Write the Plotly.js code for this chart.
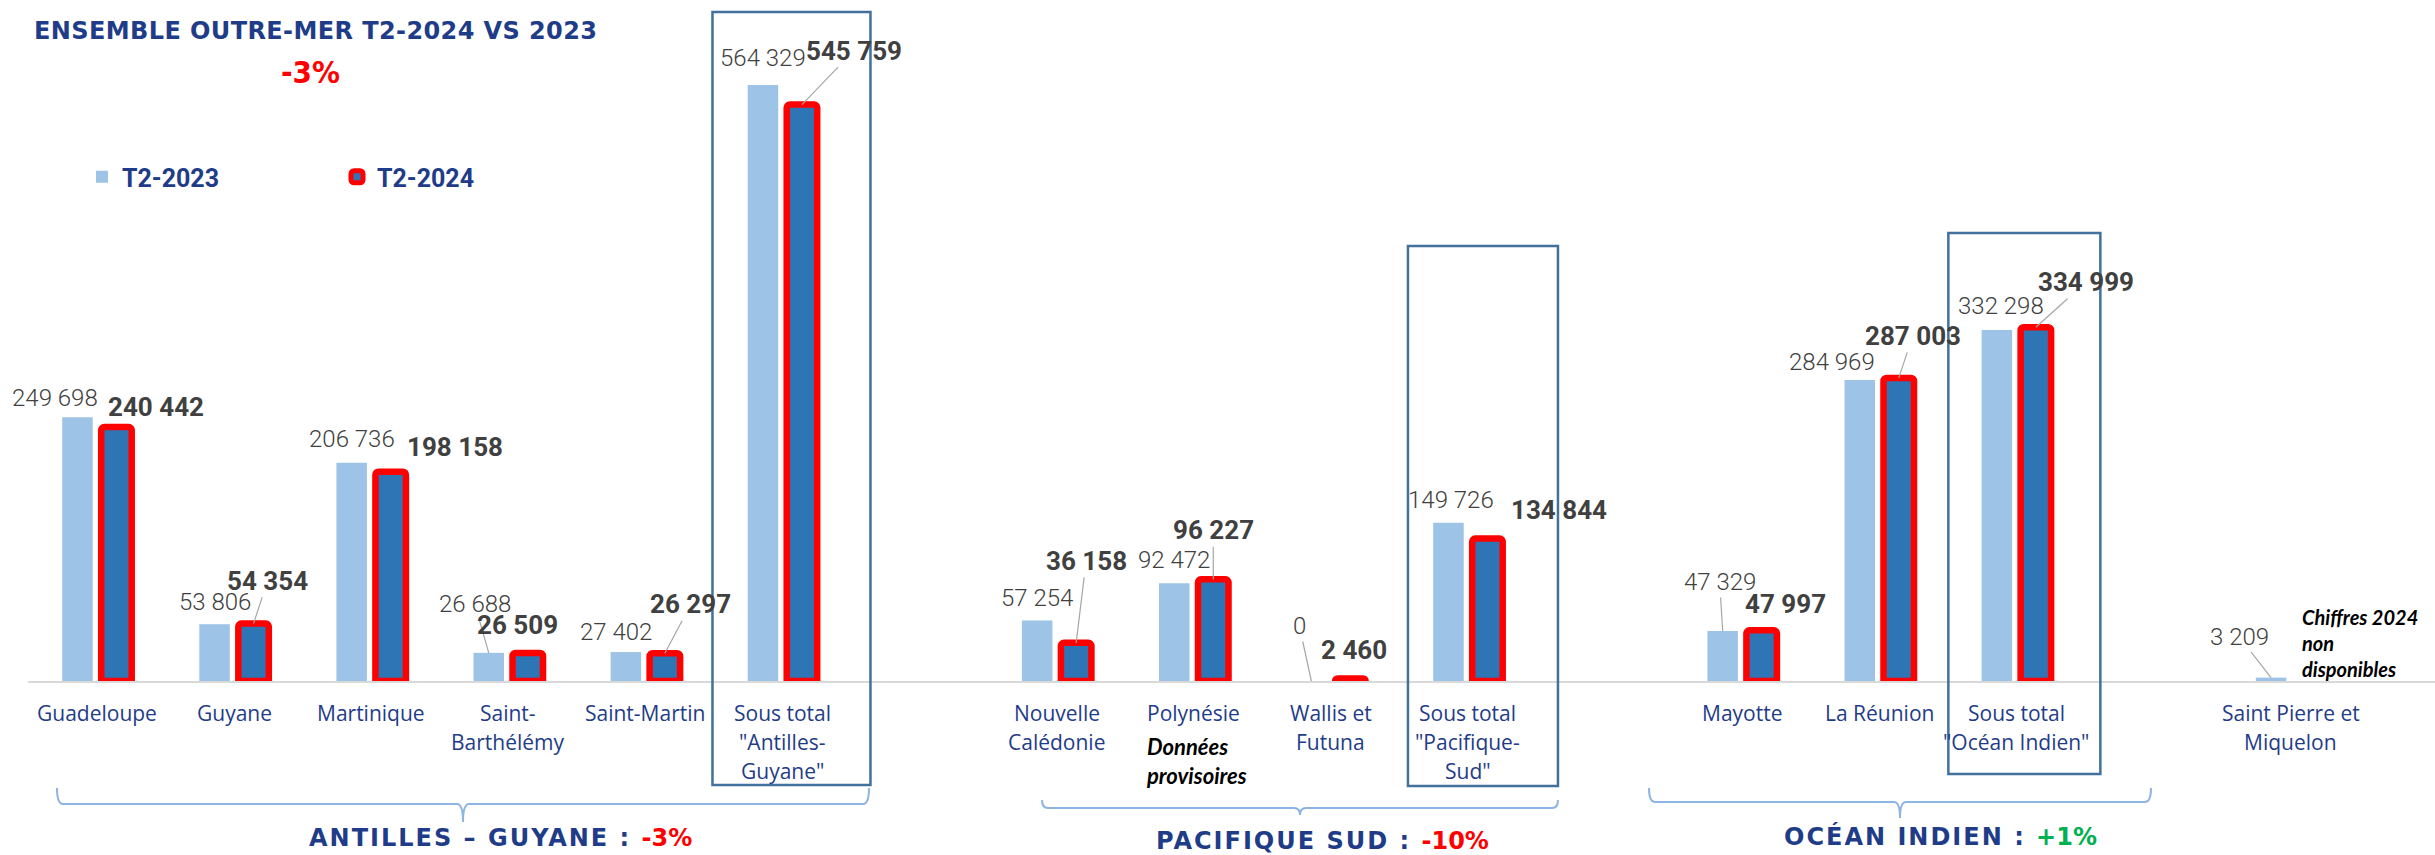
<!DOCTYPE html>
<html><head><meta charset="utf-8">
<script src="https://cdn.plot.ly/plotly-3.0.1.min.js"></script>
<style>html,body{margin:0;padding:0;background:#fff}#chart{width:2435px;height:855px}</style>
</head><body><div id="chart"></div>
<script>
// ---------------- DATA ----------------
const categories = ["Guadeloupe", "Guyane", "Martinique", "Saint-Barthélémy", "Saint-Martin",
  "Sous total \"Antilles-Guyane\"", "Nouvelle Calédonie", "Polynésie", "Wallis et Futuna",
  "Sous total \"Pacifique-Sud\"", "Mayotte", "La Réunion", "Sous total \"Océan Indien\"",
  "Saint Pierre et Miquelon"];
const categoryOrder = ["Guadeloupe", "Guyane", "Martinique", "Saint-Barthélémy", "Saint-Martin",
  "Sous total \"Antilles-Guyane\"", "", "Nouvelle Calédonie", "Polynésie", "Wallis et Futuna",
  "Sous total \"Pacifique-Sud\"", "", "Mayotte", "La Réunion", "Sous total \"Océan Indien\"", "",
  "Saint Pierre et Miquelon"];
const tickLines = [["Guadeloupe"], ["Guyane"], ["Martinique"], ["Saint-", "Barthélémy"], ["Saint-Martin"],
  ["Sous total", "\"Antilles-", "Guyane\""], ["Nouvelle", "Calédonie"], ["Polynésie"], ["Wallis et", "Futuna"],
  ["Sous total", "\"Pacifique-", "Sud\""], ["Mayotte"], ["La Réunion"], ["Sous total", "\"Océan Indien\""],
  ["Saint Pierre et", "Miquelon"]];
const seriesNames = ["T2-2023", "T2-2024"];
const values2023 = [249698, 53806, 206736, 26688, 27402, 564329, 57254, 92472, 0, 149726, 47329, 284969, 332298, 3209];
const values2024 = [240442, 54354, 198158, 26509, 26297, 545759, 36158, 96227, 2460, 134844, 47997, 287003, 334999, null];
const chartTitle = "ENSEMBLE OUTRE-MER T2-2024 VS 2023";
const overallChange = "-3%";
const groupNames = ["ANTILLES – GUYANE : ", "PACIFIQUE SUD : ", "OCÉAN INDIEN : "];
const groupChanges = ["-3%", "-10%", "+1%"];
const noteProvisional = ["Données", "provisoires"];
const noteMissing = ["Chiffres 2024", "non", "disponibles"];

// ---------------- LAYOUT CONFIG ----------------
const W = 2435, H = 855, PL = 28, PT = 0, PH = 681, PW = W - PL;
const CAT_PX = 137.1, R0 = -0.503, R1 = R0 + PW / CAT_PX;
const BLUE_TXT = "#1F3C88", GREY_TXT = "#404040";
const LIGHT = "#9DC3E6", DARK = "#2E75B6", RED = "#FF0000", BOX = "#41719C", BRACKET = "#8DB4E2";
const NARROW = "DejaVu Sans Condensed, Liberation Sans Narrow, sans-serif";
const NUMFONT = "Roboto, DejaVu Sans Condensed, sans-serif";

// label offsets relative to bar top centre [dx, dy, leader]
const off2023 = [[-22,-19,0],[0,-22,0],[0,-24,0],[-14,-49,1],[-10,-20,0],[0,-27,0],[0,-23,0],[0,-23,0],
  [-12,-55,1],[3,-23,0],[-3,-49,1],[-28,-18,0],[4,-24,0],[-32,-41,1]];
const off2024 = [[40,-20,0],[14,-43,1],[64,-25,0],[-10,-28,0],[26,-49,1],[52,-54,1],[10,-82,1],[0,-49,1],
  [4,-28,0],[72,-29,0],[24,-26,0],[14,-42,1],[50,-45,1],null];

const xpos = categories.map(c => categoryOrder.indexOf(c));
const catPx = i => PL + (xpos[i] - R0) * CAT_PX;
const px2x = px => (px - PL) / PW;
const px2y = py => (PT + PH - py) / PH;
const fmt = v => String(v).replace(/\B(?=(\d{3})+(?!\d))/g, " ");

const traces = [
  {type: "bar", name: seriesNames[0], x: xpos, y: values2023, marker: {color: LIGHT}, cliponaxis: false, hoverinfo: "skip"},
  {type: "bar", name: seriesNames[1], x: xpos, y: values2024, marker: {color: DARK, cornerradius: 3, line: {color: RED, width: 6.5}}, cliponaxis: false, hoverinfo: "skip"}
];

const ann = [];
// value labels
[values2023, values2024].forEach((vals, s) => {
  const offs = s === 0 ? off2023 : off2024;
  vals.forEach((v, i) => {
    if (v === null) return;
    const o = offs[i];
    ann.push({x: xpos[i], y: v, xref: "x", yref: "y", xshift: s === 0 ? -19.5 : 19.5,
      text: fmt(v), showarrow: true, arrowhead: 0, arrowwidth: 1.2, standoff: 0,
      arrowcolor: o[2] ? "#A6A6A6" : "rgba(0,0,0,0)", ax: o[0], ay: o[1],
      font: {family: NUMFONT, size: s === 0 ? 24 : 26, color: GREY_TXT, weight: s === 0 ? 300 : "bold"}});
  });
});
// category labels
tickLines.forEach((lines, i) => {
  lines.forEach((t, j) => {
    ann.push({x: xpos[i], y: 0, xref: "x", yref: "paper", yshift: -(32 + 29 * j), yanchor: "middle",
      text: t, showarrow: false, font: {family: "Open Sans, sans-serif", size: 21, color: BLUE_TXT}});
  });
});
// title
ann.push({x: px2x(32), y: px2y(31), xref: "paper", yref: "paper", xanchor: "left", yanchor: "middle",
  text: "<span style='letter-spacing:0.4px'>" + chartTitle + "</span>", showarrow: false,
  font: {family: "DejaVu Sans, sans-serif", size: 24, weight: "bold", color: BLUE_TXT}});
ann.push({x: px2x(310), y: px2y(72), xref: "paper", yref: "paper", xanchor: "center", yanchor: "middle",
  text: overallChange, showarrow: false, font: {family: NARROW, size: 31, weight: "bold", color: RED}});
// group titles
const groupCenters = [[500, 838], [1322, 841], [1940, 836]];
const groupColors = [RED, RED, "#00B050"];
groupNames.forEach((g, k) => {
  ann.push({x: px2x(groupCenters[k][0]), y: px2y(groupCenters[k][1]), xref: "paper", yref: "paper",
    xanchor: "center", yanchor: "middle", showarrow: false,
    text: "<span style='letter-spacing:2px'>" + g + "</span><span style='color:" + groupColors[k] + "'>" + groupChanges[k] + "</span>",
    font: {family: "DejaVu Sans, sans-serif", size: 24, weight: "bold", color: BLUE_TXT}});
});
// notes
ann.push({x: px2x(1144), y: px2y(761), xref: "paper", yref: "paper", xanchor: "left", yanchor: "middle", align: "left",
  text: noteProvisional.join("<br>"), showarrow: false, font: {family: "Lato, sans-serif", size: 22, weight: "bold", style: "italic", color: "#000"}});
ann.push({x: px2x(2300), y: px2y(643), xref: "paper", yref: "paper", xanchor: "left", yanchor: "middle", align: "left",
  text: noteMissing.join("<br>"), showarrow: false, font: {family: "Lato, sans-serif", size: 20, weight: "bold", style: "italic", color: "#000"}});

// shapes: boxes around subtotals
const shapes = [];
const boxes = [{cat: 5, l: -70, r: 88, t: 12, b: 785}, {cat: 9, l: -60, r: 90, t: 246, b: 786}, {cat: 12, l: -68, r: 84, t: 233, b: 774}];
boxes.forEach(b => {
  const c = catPx(b.cat);
  shapes.push({type: "rect", xref: "paper", yref: "paper", x0: px2x(c + b.l), x1: px2x(c + b.r), y0: px2y(b.b), y1: px2y(b.t),
    line: {color: BOX, width: 2.5}, fillcolor: "rgba(0,0,0,0)", layer: "above"});
});
// brackets
const brackets = [{l: 57, r: 869, m: 463, top: 788, bar: 804, tip: 822}, {l: 1042, r: 1558, m: 1300, top: 800, bar: 808, tip: 815},
  {l: 1649, r: 2151, m: 1900, top: 788, bar: 802, tip: 818}];
brackets.forEach(b => {
  const P = (x, y) => px2x(x) + "," + px2y(y);
  const path = "M" + P(b.l, b.top) + " Q" + P(b.l, b.bar) + " " + P(b.l + 6, b.bar) + " L" + P(b.m - 6, b.bar) +
    " Q" + P(b.m, b.bar) + " " + P(b.m, b.tip) + " Q" + P(b.m, b.bar) + " " + P(b.m + 6, b.bar) +
    " L" + P(b.r - 6, b.bar) + " Q" + P(b.r, b.bar) + " " + P(b.r, b.top);
  shapes.push({type: "path", xref: "paper", yref: "paper", path: path, line: {color: BRACKET, width: 2}});
});

const layout = {
  width: W, height: H, margin: {l: PL, r: 0, t: PT, b: H - PH - PT, pad: 0},
  paper_bgcolor: "#fff", plot_bgcolor: "#fff",
  barmode: "group", bargap: 0.431, bargroupgap: 0.218,
  xaxis: {range: [R0, R1], showticklabels: false, showgrid: false, zeroline: false, ticks: "",
    showline: true, linecolor: "#D9D9D9", linewidth: 2, fixedrange: true},
  yaxis: {range: [0, PH / (596 / 564329)], visible: false, fixedrange: true},
  showlegend: true,
  legend: {orientation: "h", x: px2x(82), xanchor: "left", y: px2y(154), yanchor: "top",
    entrywidth: 210, entrywidthmode: "pixels", bgcolor: "rgba(0,0,0,0)",
    font: {family: NUMFONT, size: 25, weight: "bold", color: BLUE_TXT}},
  annotations: ann, shapes: shapes
};
Plotly.newPlot("chart", traces, layout, {displayModeBar: false, staticPlot: true});
</script></body></html>
